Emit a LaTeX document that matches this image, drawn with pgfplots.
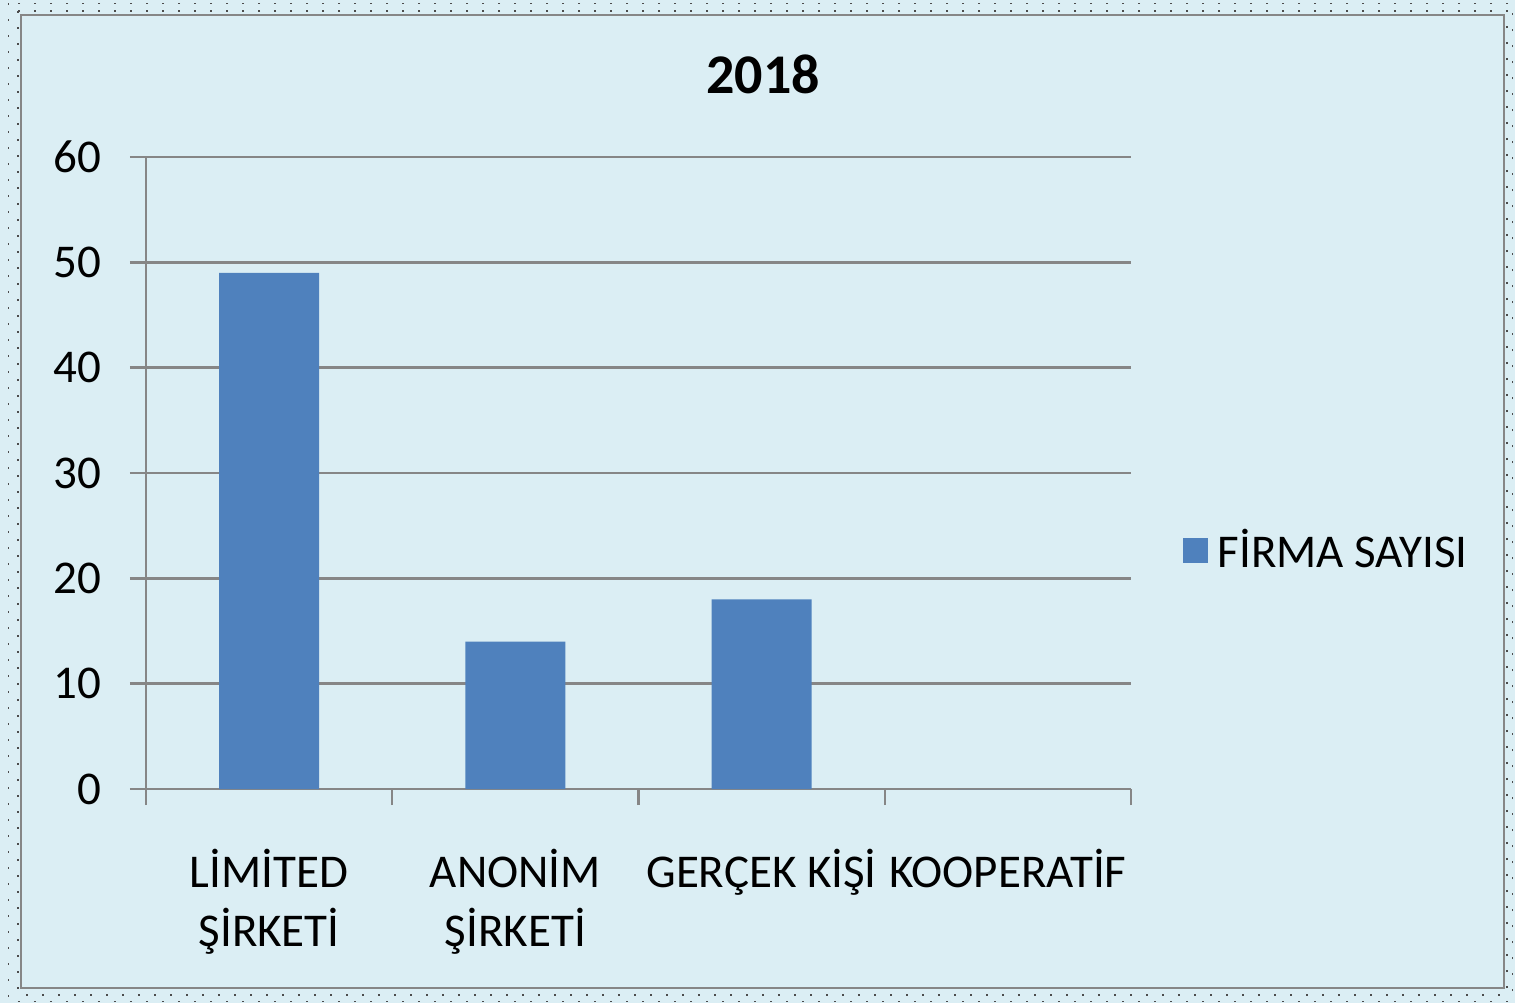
\documentclass[border=0pt]{standalone}
\usepackage{pgfplots}
\pgfplotsset{compat=1.18}
\usepackage{fontspec}
\setmainfont{Carlito}
\definecolor{bgblue}{HTML}{DBEEF4}
\definecolor{barblue}{HTML}{4F81BD}
\definecolor{axgray}{HTML}{868686}
\begin{document}
\begin{tikzpicture}
\useasboundingbox (0,0) rectangle (757.5pt,-501.5pt);
\fill[bgblue] (0,0) rectangle (757.5pt,-501.5pt);
\draw[black!70, line width=0.4pt, dash pattern=on 1.2pt off 6.8pt] (4pt,-1.5pt) rectangle (756pt,-500.5pt);
\draw[black!70, line width=1pt, dash pattern=on 1pt off 7pt] (9pt,-5.5pt) rectangle (753.5pt,-497.5pt);
\draw[axgray, line width=1.2pt] (10.5pt,-7.5pt) rectangle (752pt,-494pt);
\node[font=\fontsize{28}{34}\selectfont\bfseries] at (381.5pt,-37pt) {2018};
\begin{axis}[
  at={(73pt,-394.5pt)}, anchor=south west,
  scale only axis, width=492.5pt, height=316pt,
  xmin=-0.5, xmax=3.5, ymin=0, ymax=60,
  ytick={0,10,...,60},
  xtick={0,1,2,3},
  xticklabels={{LİMİTED\\ŞİRKETİ},{ANONİM\\ŞİRKETİ},{GERÇEK KİŞİ},{KOOPERATİF}},
  minor xtick={-0.5,0.5,1.5,2.5,3.5},
  axis line style={axgray, line width=1.2pt},
  axis x line*=bottom, axis y line*=left,
  ymajorgrids, grid style={axgray, line width=1.2pt},
  tick align=outside,
  major tick length=8pt, minor tick length=8pt,
  tick style={axgray, line width=1.2pt},
  xtick style={draw=none},
  minor x tick style={draw=axgray, line width=1.2pt},
  tick label style={font=\fontsize{23.5}{29.5}\selectfont},
  /pgf/number format/assume math mode=true,
  xticklabel style={align=center, anchor=north, yshift=-18.5pt},
  yticklabel style={anchor=east, xshift=-11pt},
  ybar, bar width=0.406,
  legend style={at={(1.052,0.378)}, anchor=west, draw=none, fill=none,
    font=\fontsize{23.5}{29}\selectfont, inner sep=0pt},
  legend image code/.code={\fill[#1] (0pt,-6.25pt) rectangle (12.5pt,6.25pt);},
]
\addplot[fill=barblue, draw=none] coordinates {(0,49) (1,14) (2,18) (3,0)};
\addlegendentry{\hspace{3pt}FİRMA SAYISI}
\end{axis}
\end{tikzpicture}
\end{document}
